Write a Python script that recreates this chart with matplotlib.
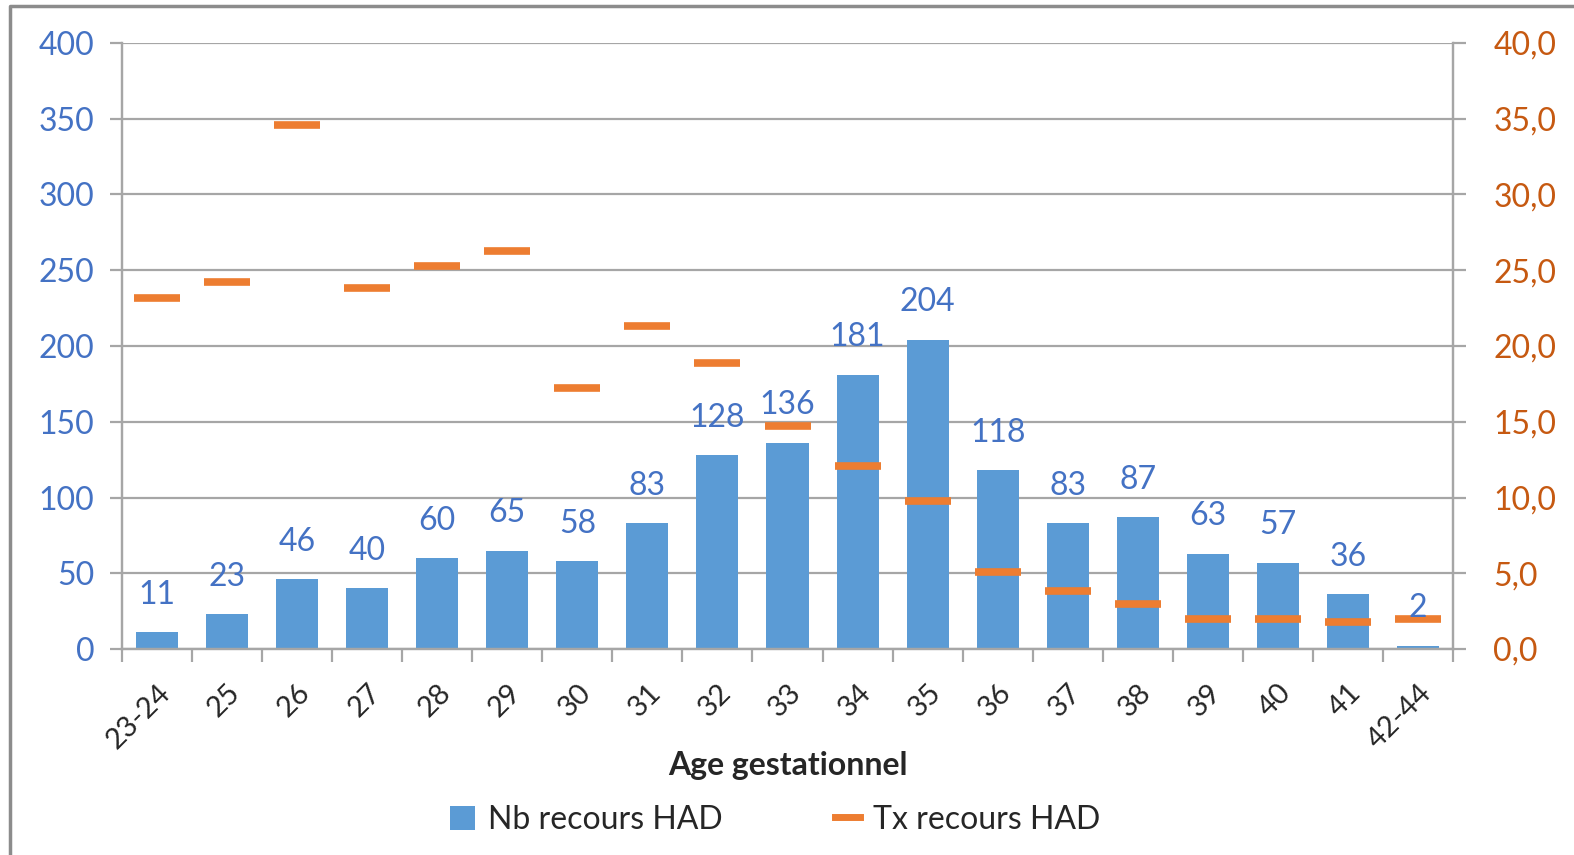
import matplotlib.pyplot as plt
from matplotlib.lines import Line2D
from matplotlib.patches import Patch
from matplotlib.ticker import FuncFormatter, FixedLocator
import numpy as np

plt.rcParams["font.family"] = ["Lato", "DejaVu Sans"]

categories = ["23-24", "25", "26", "27", "28", "29", "30", "31", "32", "33",
              "34", "35", "36", "37", "38", "39", "40", "41", "42-44"]
nb_recours = [11, 23, 46, 40, 60, 65, 58, 83, 128, 136,
              181, 204, 118, 83, 87, 63, 57, 36, 2]
tx_recours = [23.2, 24.2, 34.6, 23.8, 25.3, 26.3, 17.2, 21.3, 18.9, 14.7,
              12.1, 9.8, 5.1, 3.8, 3.0, 2.0, 2.0, 1.8, 2.0]

BLUE = "#5B9BD5"
ORANGE = "#ED7D31"
BLUE_TXT = "#4472C4"
ORANGE_TXT = "#C65911"
GRID = "#A6A6A6"

fig = plt.figure(figsize=(15.74, 8.55), dpi=100)
ax = fig.add_axes([122 / 1574, 1 - 649 / 855, (1453 - 122) / 1574, (649 - 43) / 855])
ax2 = ax.twinx()

x = np.arange(len(categories))
ax.bar(x, nb_recours, width=0.6, color=BLUE, zorder=2)
ax.set_xlim(-0.5, len(categories) - 0.5)
ax.set_ylim(0, 400)
ax.set_yticks(range(0, 401, 50))
ax.yaxis.grid(True, color=GRID, lw=1.6, zorder=0)
ax.set_axisbelow(True)

ax2.plot(x, tx_recours, ls="none", marker="_", ms=33, mew=5.5, color=ORANGE)
ax2.set_ylim(0, 40)
ax2.set_yticks(range(0, 41, 5))
ax2.yaxis.set_major_formatter(FuncFormatter(lambda v, p: f"{v:.1f}".replace(".", ",")))

# data labels above the bars, drawn on top of the orange marks
for xi, v in zip(x, nb_recours):
    ax2.annotate(str(v), xy=(xi, v), xycoords=ax.transData, xytext=(0, 27),
                 textcoords="offset points", ha="center", va="center",
                 fontsize=23, color=BLUE_TXT)

for a in (ax, ax2):
    a.spines["top"].set_visible(False)
    for side in ("left", "right", "bottom"):
        a.spines[side].set_color(GRID)
        a.spines[side].set_linewidth(1.6)

ax.tick_params(axis="y", colors=GRID, labelcolor=BLUE_TXT, labelsize=23,
               length=9, width=1.6, pad=11)
ax2.tick_params(axis="y", colors=GRID, labelcolor=ORANGE_TXT, labelsize=23,
                length=9, width=1.6, pad=20)

ax.set_xticks(x)
ax.set_xticklabels(categories, rotation=45, ha="right", rotation_mode="anchor",
                   fontsize=21, color="#262626")
ax.tick_params(axis="x", which="major", length=0, pad=22)
ax.xaxis.set_minor_locator(FixedLocator(np.arange(-0.5, len(categories), 1.0)))
ax.tick_params(axis="x", which="minor", length=9, width=1.6, color=GRID)

ax.set_xlabel("Age gestationnel", fontsize=23, fontweight="bold",
              color="#262626", labelpad=-2)

handles = [Patch(facecolor=BLUE, edgecolor="none"),
           Line2D([], [], color=ORANGE, lw=5)]
fig.legend(handles, ["Nb recours HAD", "Tx recours HAD"], loc="center",
           bbox_to_anchor=(775 / 1574, 1 - 820 / 855), ncol=2, frameon=False,
           fontsize=23, handlelength=0.8, handleheight=0.8, columnspacing=3.5,
           handletextpad=0.4, labelcolor="#262626")

# outer chart frame (top and left edges visible)
fig.add_artist(Line2D([10 / 1574, 10 / 1574, 1.0], [0.0, 1 - 6 / 855, 1 - 6 / 855],
                      transform=fig.transFigure, color="#8C8C8C", lw=2.5))

fig.savefig("out.png", dpi=100)
